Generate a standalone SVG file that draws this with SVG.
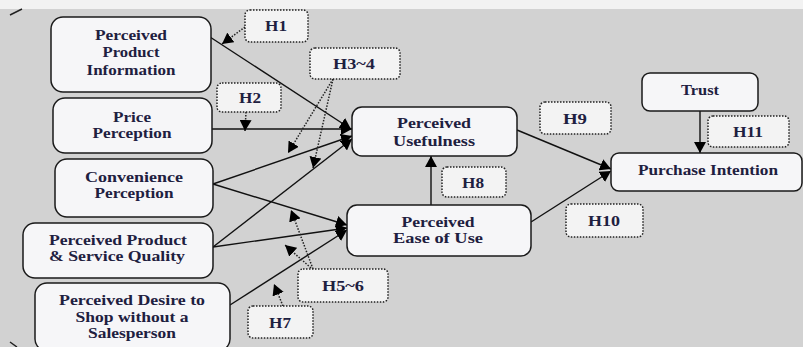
<svg xmlns="http://www.w3.org/2000/svg" width="803" height="347" viewBox="0 0 803 347">
<style>
.bg{fill:#d2d2d2}
.node rect{fill:#f6f6f8;stroke:#1a1a1a;stroke-width:1.5}
.hyp rect{fill:#f3f3f3;stroke:#222;stroke-width:1.5;stroke-dasharray:1.5 1.5}
text{font-family:"Liberation Serif","Times New Roman",serif;font-size:14.5px;font-weight:bold;fill:#1e2040;text-anchor:middle}
.c{fill:none;stroke:#111;stroke-width:1.4}
.d{fill:none;stroke:#222;stroke-width:1.5;stroke-dasharray:1.5 1.5}
</style>
<defs>
<marker id="ah" markerUnits="userSpaceOnUse" markerWidth="12" markerHeight="12" refX="11" refY="6" orient="auto">
<path d="M0,0 L11,6 L0,12 Z" fill="#000"/>
</marker>
</defs>
<rect class="bg" x="0" y="0" width="803" height="347"/>
<rect x="0" y="0" width="803" height="9" fill="#f2f2f2"/>
<path d="M10,15 L22,9 M10,342 L17,347" stroke="#222" stroke-width="1.5" fill="none"/>

<g id="connectors">
<path class="c" d="M210,37 L351,129" marker-end="url(#ah)"/>
<path class="c" d="M212,129 L352,129" marker-end="url(#ah)"/>
<path class="c" d="M213,184 L352,136" marker-end="url(#ah)"/>
<path class="c" d="M213,184 L347,225" marker-end="url(#ah)"/>
<path class="c" d="M213,247 L352,139" marker-end="url(#ah)"/>
<path class="c" d="M213,247 L347,228" marker-end="url(#ah)"/>
<path class="c" d="M230,305 L347,230" marker-end="url(#ah)"/>
<path class="c" d="M431,205 L431,156" marker-end="url(#ah)"/>
<path class="c" d="M517,130 L611,169" marker-end="url(#ah)"/>
<path class="c" d="M531,222 L611,171" marker-end="url(#ah)"/>
<path class="c" d="M700,111 L700,153" marker-end="url(#ah)"/>
<path class="d" d="M245,27 L222,44" marker-end="url(#ah)"/>
<path class="d" d="M246,112 L245,131" marker-end="url(#ah)"/>
<path class="d" d="M333,79 L288,153" marker-end="url(#ah)"/>
<path class="d" d="M333,79 L313,168" marker-end="url(#ah)"/>
<path class="d" d="M313,269 L291,210" marker-end="url(#ah)"/>
<path class="d" d="M311,268 L285,245" marker-end="url(#ah)"/>
<path class="d" d="M283,306 L274,284" marker-end="url(#ah)"/>
</g>

<g id="ppi" class="node"><rect x="51" y="17" width="160" height="75" rx="12"/>
<text x="131" y="40" textLength="72" lengthAdjust="spacingAndGlyphs">Perceived</text>
<text x="131" y="57" textLength="57" lengthAdjust="spacingAndGlyphs">Product</text>
<text x="131" y="75" textLength="89" lengthAdjust="spacingAndGlyphs">Information</text></g>

<g id="pp" class="node"><rect x="53" y="98" width="159" height="55" rx="12"/>
<text x="132" y="122" textLength="38" lengthAdjust="spacingAndGlyphs">Price</text>
<text x="132" y="138" textLength="79" lengthAdjust="spacingAndGlyphs">Perception</text></g>

<g id="cp" class="node"><rect x="55" y="159" width="158" height="58" rx="12"/>
<text x="134" y="182" textLength="98" lengthAdjust="spacingAndGlyphs">Convenience</text>
<text x="134" y="198" textLength="79" lengthAdjust="spacingAndGlyphs">Perception</text></g>

<g id="ppsq" class="node"><rect x="23" y="223" width="190" height="55" rx="12"/>
<text x="118" y="245" textLength="138" lengthAdjust="spacingAndGlyphs">Perceived Product</text>
<text x="117" y="261" textLength="136" lengthAdjust="spacingAndGlyphs">&amp; Service Quality</text></g>

<g id="pds" class="node"><rect x="35" y="283" width="195" height="68" rx="12"/>
<text x="132" y="305" textLength="146" lengthAdjust="spacingAndGlyphs">Perceived Desire to</text>
<text x="132" y="322" textLength="113" lengthAdjust="spacingAndGlyphs">Shop without a</text>
<text x="132" y="338" textLength="88" lengthAdjust="spacingAndGlyphs">Salesperson</text></g>

<g id="pu" class="node"><rect x="352" y="107" width="165" height="49" rx="10"/>
<text x="434" y="128" textLength="74" lengthAdjust="spacingAndGlyphs">Perceived</text>
<text x="434" y="146" textLength="82" lengthAdjust="spacingAndGlyphs">Usefulness</text></g>

<g id="peu" class="node"><rect x="347" y="205" width="184" height="51" rx="10"/>
<text x="438" y="227" textLength="73" lengthAdjust="spacingAndGlyphs">Perceived</text>
<text x="438" y="243" textLength="90" lengthAdjust="spacingAndGlyphs">Ease of Use</text></g>

<g id="trust" class="node"><rect x="642" y="73" width="116" height="38" rx="8"/>
<text x="700" y="95" textLength="38" lengthAdjust="spacingAndGlyphs">Trust</text></g>

<g id="pi" class="node"><rect x="611" y="153" width="191" height="38" rx="8"/>
<text x="708" y="175" textLength="140" lengthAdjust="spacingAndGlyphs">Purchase Intention</text></g>

<g id="h1" class="hyp"><rect x="245" y="10" width="63" height="32" rx="5"/><text x="276" y="31" textLength="22" lengthAdjust="spacingAndGlyphs">H1</text></g>
<g id="h34" class="hyp"><rect x="310" y="48" width="90" height="31" rx="5"/><text x="354" y="69" textLength="42" lengthAdjust="spacingAndGlyphs">H3~4</text></g>
<g id="h2" class="hyp"><rect x="217" y="83" width="64" height="29" rx="5"/><text x="250" y="103" textLength="22" lengthAdjust="spacingAndGlyphs">H2</text></g>
<g id="h8" class="hyp"><rect x="442" y="167" width="64" height="30" rx="5"/><text x="473" y="188" textLength="22" lengthAdjust="spacingAndGlyphs">H8</text></g>
<g id="h9" class="hyp"><rect x="540" y="102" width="71" height="32" rx="5"/><text x="575" y="124" textLength="24" lengthAdjust="spacingAndGlyphs">H9</text></g>
<g id="h11" class="hyp"><rect x="708" y="116" width="81" height="31" rx="5"/><text x="748" y="137" textLength="30" lengthAdjust="spacingAndGlyphs">H11</text></g>
<g id="h10" class="hyp"><rect x="566" y="204" width="77" height="33" rx="5"/><text x="604" y="226" textLength="32" lengthAdjust="spacingAndGlyphs">H10</text></g>
<g id="h56" class="hyp"><rect x="298" y="269" width="90" height="33" rx="5"/><text x="343" y="291" textLength="42" lengthAdjust="spacingAndGlyphs">H5~6</text></g>
<g id="h7" class="hyp"><rect x="248" y="306" width="65" height="32" rx="5"/><text x="280" y="328" textLength="22" lengthAdjust="spacingAndGlyphs">H7</text></g>
</svg>
